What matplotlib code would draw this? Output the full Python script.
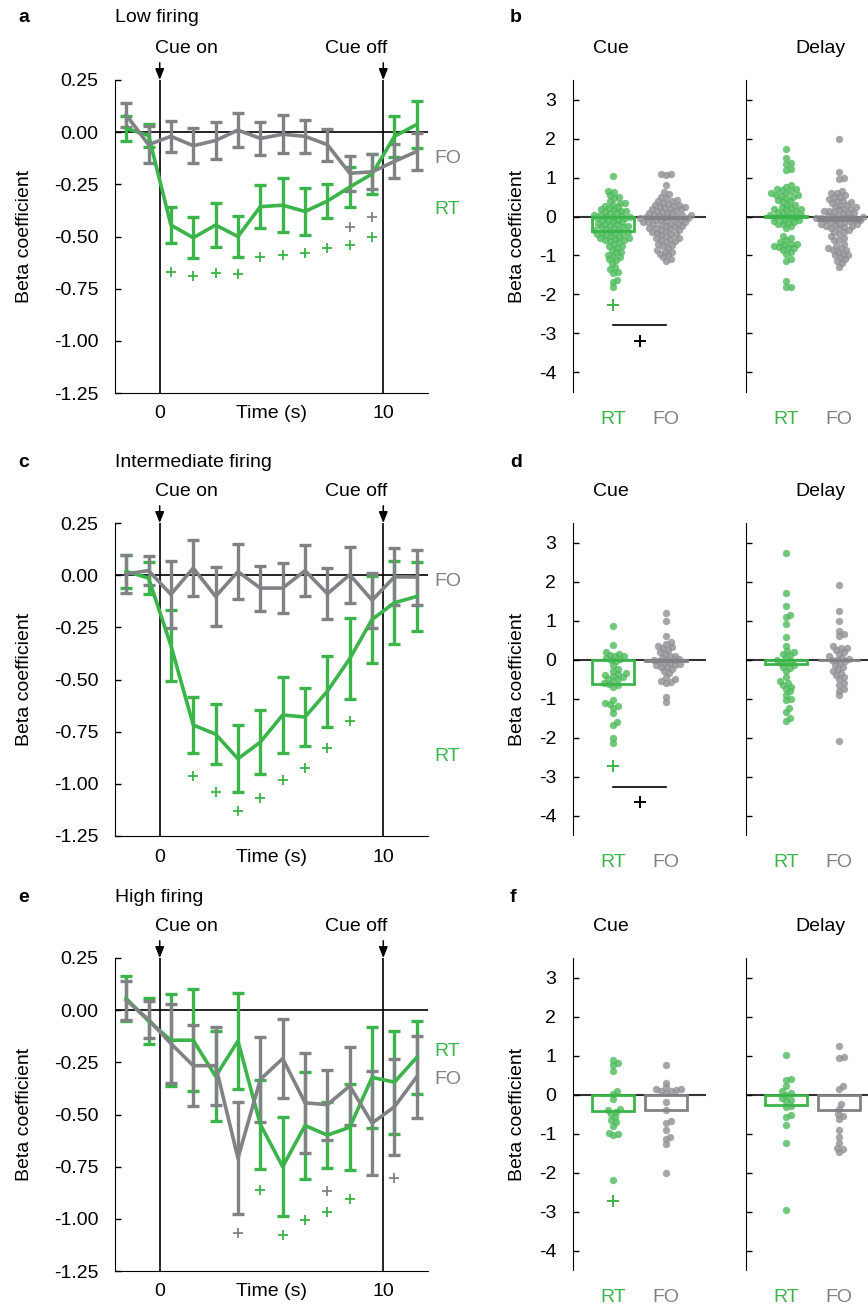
import numpy as np
import matplotlib
matplotlib.use('Agg')
import matplotlib.pyplot as plt
from matplotlib.transforms import blended_transform_factory, ScaledTranslation

plt.rcParams['font.family'] = ['Liberation Sans', 'DejaVu Sans']
plt.rcParams['font.size'] = 14
plt.rcParams['axes.unicode_minus'] = False

GREEN = '#3bb44a'
GRAY = '#808285'
GREEN_DOT = '#4dbb5c'
GRAY_DOT = '#8e9093'

# ---- time courses (panels a, c, e) ----
time_s = [-1.5, -0.5, 0.5, 1.5, 2.5, 3.5, 4.5, 5.5, 6.5, 7.5, 8.5, 9.5, 10.5, 11.5]

low_rt = [0.018, -0.016, -0.445, -0.506, -0.445, -0.5, -0.357, -0.35, -0.38, -0.33, -0.263, -0.2, -0.02, 0.037]
low_rt_err = [0.059, 0.056, 0.088, 0.098, 0.104, 0.097, 0.104, 0.128, 0.112, 0.082, 0.094, 0.096, 0.097, 0.112]
low_fo = [0.083, -0.06, -0.02, -0.065, -0.04, 0.01, -0.03, -0.01, -0.02, -0.06, -0.197, -0.19, -0.14, -0.092]
low_fo_err = [0.057, 0.088, 0.074, 0.085, 0.088, 0.08, 0.078, 0.092, 0.078, 0.077, 0.085, 0.084, 0.082, 0.089]

mid_rt = [0.018, -0.014, -0.337, -0.718, -0.762, -0.88, -0.8, -0.67, -0.68, -0.556, -0.4, -0.212, -0.132, -0.102]
mid_rt_err = [0.078, 0.075, 0.17, 0.136, 0.144, 0.16, 0.153, 0.183, 0.141, 0.17, 0.193, 0.207, 0.199, 0.166]
mid_fo = [0.006, 0.022, -0.092, 0.034, -0.102, 0.017, -0.062, -0.062, 0.022, -0.089, 0.002, -0.12, -0.008, -0.009]
mid_fo_err = [0.09, 0.069, 0.159, 0.133, 0.142, 0.132, 0.108, 0.118, 0.121, 0.121, 0.134, 0.131, 0.136, 0.132]

high_rt = [0.056, -0.052, -0.144, -0.144, -0.317, -0.148, -0.547, -0.75, -0.553, -0.599, -0.561, -0.322, -0.345, -0.226]
high_rt_err = [0.109, 0.11, 0.221, 0.245, 0.215, 0.23, 0.213, 0.238, 0.255, 0.158, 0.207, 0.243, 0.247, 0.175]
high_fo = [0.048, -0.045, -0.16, -0.266, -0.266, -0.709, -0.332, -0.232, -0.444, -0.453, -0.363, -0.541, -0.463, -0.319]
high_fo_err = [0.093, 0.088, 0.19, 0.195, 0.187, 0.267, 0.205, 0.19, 0.239, 0.167, 0.185, 0.251, 0.229, 0.197]

# significance markers (+)
low_sig_rt_t = [0.5, 1.5, 2.5, 3.5, 4.5, 5.5, 6.5, 7.5, 8.5, 9.5]
low_sig_rt_y = [-0.67, -0.69, -0.675, -0.68, -0.6, -0.59, -0.58, -0.555, -0.54, -0.5]
low_sig_fo_t = [8.5, 9.5]
low_sig_fo_y = [-0.453, -0.405]
mid_sig_rt_t = [1.5, 2.5, 3.5, 4.5, 5.5, 6.5, 7.5, 8.5]
mid_sig_rt_y = [-0.962, -1.037, -1.128, -1.068, -0.984, -0.925, -0.83, -0.70]
mid_sig_fo_t = []
mid_sig_fo_y = []
high_sig_rt_t = [4.5, 5.5, 6.5, 7.5, 8.5]
high_sig_rt_y = [-0.864, -1.079, -1.004, -0.967, -0.903]
high_sig_fo_t = [3.5, 7.5, 10.5]
high_sig_fo_y = [-1.07, -0.867, -0.803]

# ---- single-neuron betas (panels b, d, f) ----
b_cue_rt = [1.05, 0.66, 0.62, 0.55, 0.5, 0.47, 0.4, 0.35, 0.3, 0.28, 0.24, 0.2, 0.18, 0.15, 0.12, 0.1,
            0.08, 0.05, 0.02, 0.0, -0.02, -0.05, -0.08, -0.1, -0.12, -0.15, -0.18, -0.2, -0.22, -0.25,
            -0.28, -0.3, -0.32, -0.35, -0.38, -0.4, -0.42, -0.45, -0.48, -0.5, -0.52, -0.55, -0.58, -0.6,
            -0.62, -0.65, -0.7, -0.75, -0.8, -0.85, -0.9, -0.92, -0.98, -1.02, -1.05, -1.1, -1.12, -1.2,
            -1.3, -1.35, -1.42, -1.45, -1.62, -1.68, -1.8, 0.22, 0.05, -0.1, -0.28, -0.45, -0.55, 0.35,
            -0.35, -0.05, -0.6, 0.15, -0.2, -0.42, 0.0, -0.75]
b_cue_fo = [1.1, 1.08, 1.07, 0.8, 0.62, 0.58, 0.5, 0.48, 0.42, 0.4, 0.35, 0.32, 0.3, 0.28, 0.25, 0.22,
            0.2, 0.18, 0.15, 0.12, 0.1, 0.1, 0.08, 0.05, 0.05, 0.02, 0.0, 0.0, -0.02, -0.05, -0.05, -0.08,
            -0.1, -0.1, -0.12, -0.15, -0.15, -0.18, -0.2, -0.22, -0.25, -0.28, -0.3, -0.32, -0.35, -0.38,
            -0.4, -0.42, -0.45, -0.48, -0.5, -0.55, -0.58, -0.6, -0.62, -0.65, -0.7, -0.72, -0.75, -0.8,
            -0.85, -0.9, -0.92, -0.95, -1.0, -1.05, -1.1, -1.15, 0.3, 0.2, 0.0, -0.1, -0.25, -0.3, 0.4,
            0.15, -0.05, -0.2, -0.35, 0.05, -0.45, -0.55, 0.25, -0.15]
b_delay_rt = [1.73, 1.5, 1.38, 1.35, 1.22, 1.18, 0.8, 0.75, 0.7, 0.68, 0.65, 0.6, 0.55, 0.52, 0.5, 0.48,
              0.42, 0.38, 0.3, 0.25, 0.22, 0.2, 0.18, 0.15, 0.12, 0.1, 0.08, 0.05, 0.02, 0.0, -0.02, -0.05,
              -0.08, -0.1, -0.12, -0.15, -0.18, -0.2, -0.25, -0.3, -0.5, -0.55, -0.6, -0.65, -0.7, -0.72,
              -0.75, -0.78, -0.8, -0.85, -0.9, -0.95, -1.1, -1.15, -1.65, -1.8, -1.8, 0.6, 0.4, 0.2, 0.0,
              -0.15, 0.7, 0.55, 0.3, 0.05, -0.7, -0.8]
b_delay_fo = [2.0, 1.15, 0.98, 0.95, 0.65, 0.6, 0.55, 0.5, 0.45, 0.4, 0.38, 0.3, 0.25, 0.2, 0.18, 0.15,
              0.12, 0.1, 0.08, 0.05, 0.02, 0.0, 0.0, -0.02, -0.05, -0.05, -0.08, -0.1, -0.1, -0.12, -0.15,
              -0.18, -0.2, -0.22, -0.25, -0.28, -0.3, -0.35, -0.4, -0.45, -0.5, -0.55, -0.6, -0.7, -0.75,
              -0.8, -0.82, -0.85, -0.9, -0.95, -1.0, -1.05, -1.1, -1.15, -1.2, -1.3, 0.4, 0.3, 0.15, 0.0,
              -0.1, -0.2, -0.3, 0.6, 0.1, -0.05, -0.15, -0.4, -0.85, 0.5, 0.2, -0.25, -1.0, -0.6, 0.35, 0.25]

d_cue_rt = [0.87, 0.37, 0.18, 0.15, 0.12, 0.1, 0.08, 0.05, 0.02, 0.0, -0.05, -0.15, -0.25, -0.3, -0.35,
            -0.4, -0.42, -0.45, -0.5, -0.55, -0.6, -0.62, -0.65, -0.7, -1.05, -1.12, -1.15, -1.2, -1.25,
            -1.38, -1.6, -1.68, -2.02, -2.15, -0.38, -0.5]
d_cue_fo = [1.18, 1.0, 0.6, 0.45, 0.4, 0.35, 0.32, 0.25, 0.2, 0.15, 0.1, 0.05, 0.02, 0.0, -0.02, -0.05,
            -0.1, -0.12, -0.15, -0.2, -0.2, -0.25, -0.3, -0.35, -0.45, -0.5, -0.55, -0.58, -0.6, -0.95,
            -1.08, 0.3, 0.1, -0.1, -0.15, 0.0]
d_delay_rt = [2.72, 1.7, 1.37, 1.15, 1.08, 0.92, 0.58, 0.35, 0.22, 0.2, 0.15, 0.12, 0.05, 0.0, -0.05,
              -0.1, -0.15, -0.2, -0.3, -0.45, -0.55, -0.6, -0.65, -0.7, -0.75, -0.82, -0.9, -1.0, -1.05,
              -1.25, -1.35, -1.5, -1.58, -0.08, -0.22]
d_delay_fo = [1.9, 1.25, 1.0, 0.72, 0.65, 0.6, 0.35, 0.3, 0.3, 0.25, 0.2, 0.1, 0.05, 0.0, 0.0, -0.05,
              -0.1, -0.15, -0.2, -0.25, -0.3, -0.4, -0.45, -0.5, -0.6, -0.65, -0.75, -0.8, -0.92, -2.08,
              0.15, -0.35, 0.02]

f_cue_rt = [0.89, 0.8, 0.76, 0.59, 0.08, 0.02, -0.11, -0.37, -0.4, -0.45, -0.5, -0.58, -0.65, -0.7,
            -0.8, -0.98, -1.0, -1.05, -2.19]
f_cue_fo = [0.75, 0.3, 0.18, 0.15, 0.12, 0.1, 0.08, 0.05, 0.15, -0.2, -0.4, -0.67, -0.72, -0.9, -1.08,
            -1.15, -1.27, -2.0]
f_delay_rt = [1.02, 0.41, 0.38, 0.22, 0.08, 0.05, 0.0, -0.1, -0.14, -0.17, -0.3, -0.33, -0.52, -0.57,
              -0.78, -1.25, -2.95]
f_delay_fo = [1.25, 0.93, 0.96, 0.21, 0.15, -0.25, -0.36, -0.5, -0.55, -0.62, -0.9, -1.08, -1.25, -1.37,
              -1.4, -1.48]

# bar heights (population means): b, d, f
cue_rt_bar = [-0.38, -0.62, -0.43]
cue_fo_bar = [-0.05, -0.04, -0.40]
delay_rt_bar = [0.01, -0.12, -0.28]
delay_fo_bar = [-0.08, -0.02, -0.41]

# outlier / significance marks in the Cue panels
cue_rt_plus = [-2.26, -2.74, -2.74]
cue_diff_line = [-2.78, -3.27, None]
cue_diff_plus = [-3.18, -3.66, None]

W, H = 868, 1304
fig = plt.figure(figsize=(W / 100, H / 100), dpi=100)


def fax(left, top, width, height):
    return fig.add_axes([left / W, 1 - (top + height) / H, width / W, height / H])


def time_panel(top, rt, rt_err, fo, fo_err, srt_t, srt_y, sfo_t, sfo_y, lab_rt, lab_fo):
    ax = fax(115, top, 313, 313)
    ax.set_xlim(-2, 12)
    ax.set_ylim(-1.25, 0.25)
    ax.axhline(0, color='k', lw=1.2, zorder=1)
    ax.axvline(0, color='k', lw=1.2, zorder=1)
    ax.axvline(10, color='k', lw=1.2, zorder=1)
    for y, e, c in [(rt, rt_err, GREEN), (fo, fo_err, GRAY)]:
        ax.errorbar(time_s, y, yerr=e, color=c, lw=2.6, elinewidth=2.4, capsize=4.5,
                    capthick=2.4, zorder=3)
    ax.plot(srt_t, srt_y, '+', color=GREEN, ms=7.5, mew=1.3, zorder=4)
    ax.plot(sfo_t, sfo_y, '+', color=GRAY, ms=7.5, mew=1.3, zorder=4)
    ax.set_yticks([0.25, 0, -0.25, -0.5, -0.75, -1.0, -1.25])
    ax.set_yticklabels(['0.25', '0.00', '-0.25', '-0.50', '-0.75', '-1.00', '-1.25'])
    ax.tick_params(axis='y', direction='in', length=4, width=1, pad=12)
    ax.set_xticks([0, 10])
    ax.tick_params(axis='x', length=0, pad=9)
    ax.text(5, -1.25, 'Time (s)', ha='center', va='top',
            transform=ax.transData + ScaledTranslation(0, -9 / 72, fig.dpi_scale_trans))
    for s in ['top', 'right']:
        ax.spines[s].set_visible(False)
    ax.set_ylabel('Beta coefficient')
    ax.yaxis.set_label_coords(-0.262, 0.5)
    ax.text(12.3, lab_rt, 'RT', color=GREEN, va='center', ha='left', clip_on=False)
    ax.text(12.3, lab_fo, 'FO', color=GRAY, va='center', ha='left', clip_on=False)
    blend = blended_transform_factory(ax.transData, ax.transAxes)
    for x0, txt, ha, dx in [(0, 'Cue on', 'left', -0.2), (10, 'Cue off', 'right', 0.2)]:
        ax.annotate('', xy=(x0, 1.0), xytext=(x0, 1.055), xycoords=('data', 'axes fraction'),
                    arrowprops=dict(arrowstyle='-|>,head_length=0.55,head_width=0.22', color='k',
                                    lw=1.1, mutation_scale=12, shrinkA=0, shrinkB=0))
        ax.text(x0 + dx, 1.102, txt, ha=ha, va='center', transform=blend)
    return ax


def swarm(vals, px_y, diam=4.6):
    vals = np.asarray(vals, float)
    offs = np.zeros(len(vals))
    placed = []
    cands = [0] + [s * k for k in range(1, 80) for s in (1, -1)]
    for i in np.argsort(vals):
        y = vals[i] * px_y
        for c in cands:
            if all((c - px) ** 2 + (y - py) ** 2 >= diam ** 2 for px, py in placed):
                break
        offs[i] = c
        placed.append((c, y))
    return offs


def beta_panel(left, top, rt_vals, fo_vals, rt_bar, fo_bar, first):
    ax = fax(left, top, 133, 312)
    ax.set_xlim(0.25, 2.75)
    ax.set_ylim(-4.5, 3.5)
    px_x, px_y = 133 / 2.5, 312 / 8
    ax.axhline(0, color='#333333', lw=1.5, zorder=1)
    for xc, vals, col in [(1, rt_vals, GREEN_DOT), (2, fo_vals, GRAY_DOT)]:
        xs = xc + swarm(vals, px_y) / px_x
        ax.scatter(xs, vals, s=28, color=col, alpha=0.8, lw=0, zorder=2)
    ax.bar([1], [rt_bar], width=0.8, facecolor='none', edgecolor=GREEN, lw=2, zorder=3)
    ax.bar([2], [fo_bar], width=0.8, facecolor='none', edgecolor=GRAY, lw=2, zorder=3)
    ax.set_yticks([3, 2, 1, 0, -1, -2, -3, -4])
    ax.tick_params(axis='y', direction='in', length=4, width=1, pad=12)
    ax.set_xticks([1, 2])
    ax.set_xticklabels(['RT', 'FO'])
    ax.get_xticklabels()[0].set_color(GREEN)
    ax.get_xticklabels()[1].set_color(GRAY)
    ax.tick_params(axis='x', length=0, pad=14)
    for s in ['top', 'right', 'bottom']:
        ax.spines[s].set_visible(False)
    if first:
        ax.set_ylabel('Beta coefficient')
        ax.yaxis.set_label_coords(-0.355, 0.5)
    else:
        ax.set_yticklabels([])
    return ax


rows = [
    (80, low_rt, low_rt_err, low_fo, low_fo_err, low_sig_rt_t, low_sig_rt_y, low_sig_fo_t, low_sig_fo_y,
     -0.37, -0.125, b_cue_rt, b_cue_fo, b_delay_rt, b_delay_fo, 'a', 'Low firing', 'b', 18),
    (523, mid_rt, mid_rt_err, mid_fo, mid_fo_err, mid_sig_rt_t, mid_sig_rt_y, mid_sig_fo_t, mid_sig_fo_y,
     -0.87, -0.03, d_cue_rt, d_cue_fo, d_delay_rt, d_delay_fo, 'c', 'Intermediate firing', 'd', 462),
    (958, high_rt, high_rt_err, high_fo, high_fo_err, high_sig_rt_t, high_sig_rt_y, high_sig_fo_t,
     high_sig_fo_y, -0.2, -0.33, f_cue_rt, f_cue_fo, f_delay_rt, f_delay_fo, 'e', 'High firing', 'f', 897),
]

for k, r in enumerate(rows):
    (top, rt, rte, fo, foe, srt_t, srt_y, sfo_t, sfo_y, lrt, lfo,
     crt, cfo, drt, dfo, let1, title, let2, ty) = r
    time_panel(top, rt, rte, fo, foe, srt_t, srt_y, sfo_t, sfo_y, lrt, lfo)
    axc = beta_panel(573, top, crt, cfo, cue_rt_bar[k], cue_fo_bar[k], True)
    axd = beta_panel(746, top, drt, dfo, delay_rt_bar[k], delay_fo_bar[k], False)
    axc.plot([1], [cue_rt_plus[k]], '+', color=GREEN, ms=9, mew=1.4, zorder=4)
    if cue_diff_line[k] is not None:
        axc.plot([1, 2], [cue_diff_line[k]] * 2, color='k', lw=1.2)
        axc.plot([1.5], [cue_diff_plus[k]], '+', color='k', ms=9, mew=1.4)
    axc.text(0.96, 1.102, 'Cue', ha='center', va='center',
             transform=blended_transform_factory(axc.transData, axc.transAxes))
    axd.text(1.64, 1.102, 'Delay', ha='center', va='center',
             transform=blended_transform_factory(axd.transData, axd.transAxes))
    fig.text(18 / W, 1 - ty / H, let1, weight='bold', ha='left', va='center')
    fig.text(115 / W, 1 - ty / H, title, ha='left', va='center')
    fig.text(510 / W, 1 - ty / H, let2, weight='bold', ha='left', va='center')

fig.savefig('out.png', dpi=100)
